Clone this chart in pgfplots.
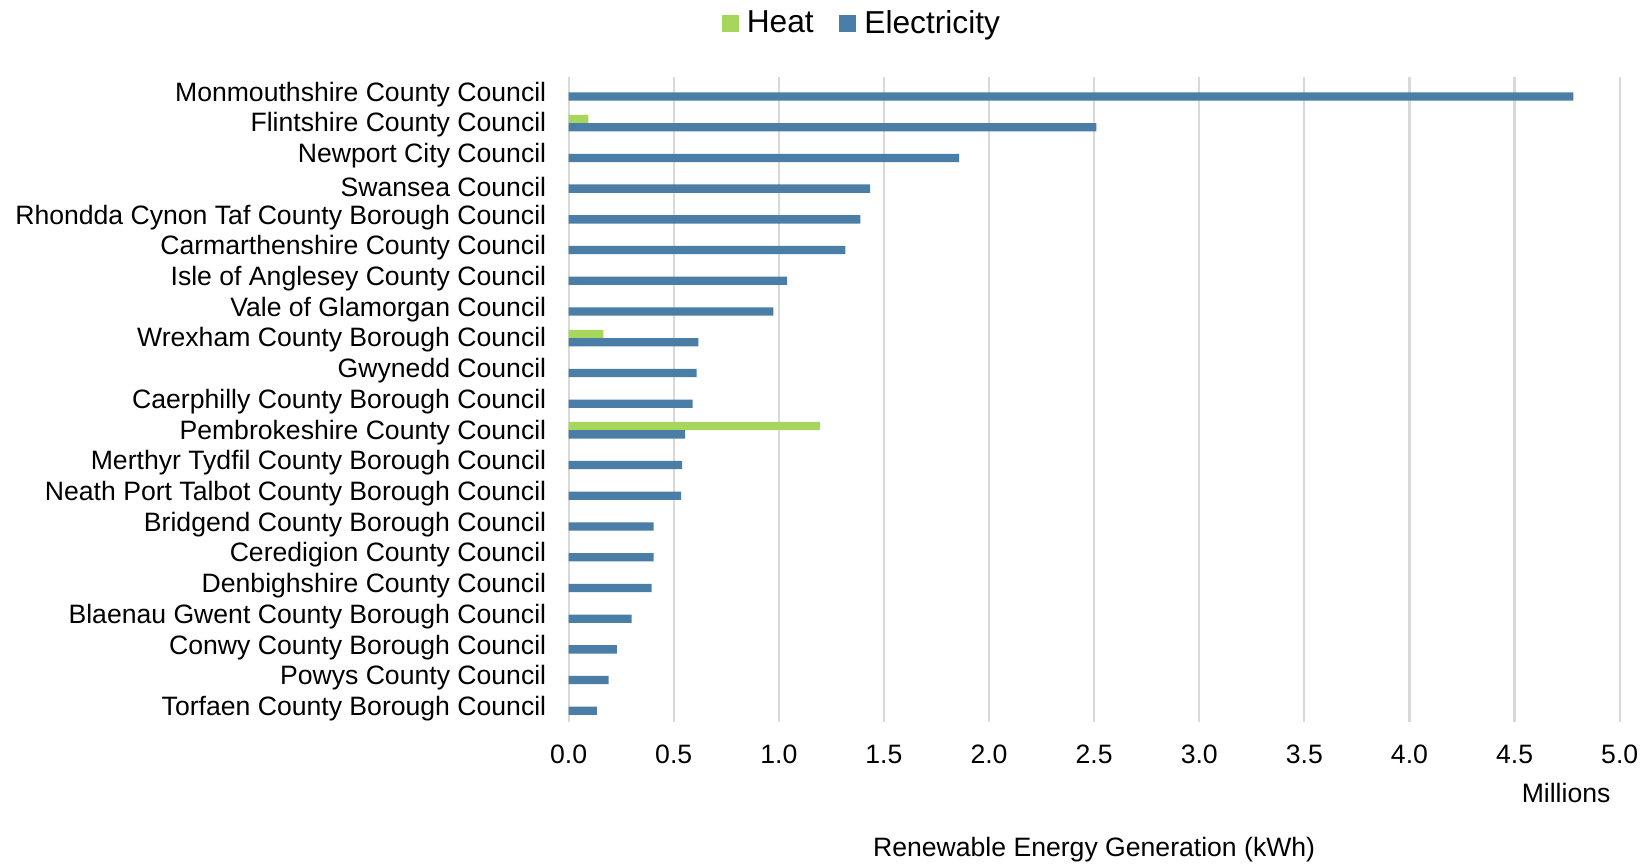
\documentclass[border=0pt]{standalone}
\usepackage{fontspec}
\setmainfont{Liberation Sans}
\usepackage{pgfplots}
\pgfplotsset{compat=1.18}
\definecolor{heat}{RGB}{166,214,92}
\definecolor{elec}{RGB}{74,126,167}
\definecolor{gridgray}{RGB}{217,217,217}
\def\lblfont{\fontsize{13.3}{16}\selectfont}
\begin{document}
\begin{tikzpicture}
\useasboundingbox (0,0) rectangle (824pt,431.5pt);
\begin{axis}[
at={(284.3pt,70.5pt)}, anchor=south west,
scale only axis, width=525.55pt, height=322.5pt,
xbar, bar width=0.27,
xmin=0, xmax=5, ymin=-0.5, ymax=20.5,
enlargelimits=false, clip=false,
xtick={0,0.5,1,1.5,2,2.5,3,3.5,4,4.5,5},
scaled x ticks=false,
/pgf/number format/fixed, /pgf/number format/fixed zerofill,
/pgf/number format/precision=1, /pgf/number format/assume math mode=true,
ytick={0,...,20},
yticklabels={Torfaen County Borough Council, Powys County Council, Conwy County Borough Council,
 Blaenau Gwent County Borough Council, Denbighshire County Council, Ceredigion County Council,
 Bridgend County Borough Council, Neath Port Talbot County Borough Council,
 Merthyr Tydfil County Borough Council, Pembrokeshire County Council,
 Caerphilly County Borough Council, Gwynedd Council, Wrexham County Borough Council,
 Vale of Glamorgan Council, Isle of Anglesey County Council, Carmarthenshire County Council,
 Rhondda Cynon Taf County Borough Council, Swansea Council, Newport City Council,
 Flintshire County Council, Monmouthshire County Council},
xticklabel style={font=\lblfont, anchor=base, yshift=-20.75pt},
yticklabel style={font=\lblfont, anchor=east, inner sep=0pt, xshift=-11pt, yshift=-1pt},
major tick length=0pt,
axis line style={draw=none},
xmajorgrids, major grid style={gridgray, line width=1.1pt},
xlabel={Renewable Energy Generation (kWh)},
xlabel style={at={(axis description cs:0.5,0)}, anchor=center, yshift=-64pt, font=\lblfont},
legend style={at={(0.280,1.083)}, anchor=center, draw=none, legend columns=-1,
 font=\fontsize{15.85}{19}\selectfont,
 /tikz/every even column/.append style={column sep=10.8pt}},
legend image code/.code={\fill[#1] (0pt,-4.25pt) rectangle (8.5pt,4.25pt); \path (10.5pt,0pt);},
]
\addplot[fill=heat, draw=none, bar shift=0.135] coordinates {
(0.094,19) (0.165,12) (1.195,9)};
\addplot[fill=elec, draw=none, bar shift=-0.135] coordinates {
(4.78,20) (2.51,19) (1.858,18) (1.434,17) (1.388,16) (1.317,15) (1.04,14)
(0.974,13) (0.617,12) (0.609,11) (0.59,10) (0.554,9) (0.54,8) (0.535,7)
(0.405,6) (0.405,5) (0.395,4) (0.30,3) (0.23,2) (0.19,1) (0.135,0)};
\legend{Heat, Electricity}
\node[font=\lblfont, anchor=center] at (rel axis cs:0.949,-0.1093) {Millions};
\end{axis}
\end{tikzpicture}
\end{document}
